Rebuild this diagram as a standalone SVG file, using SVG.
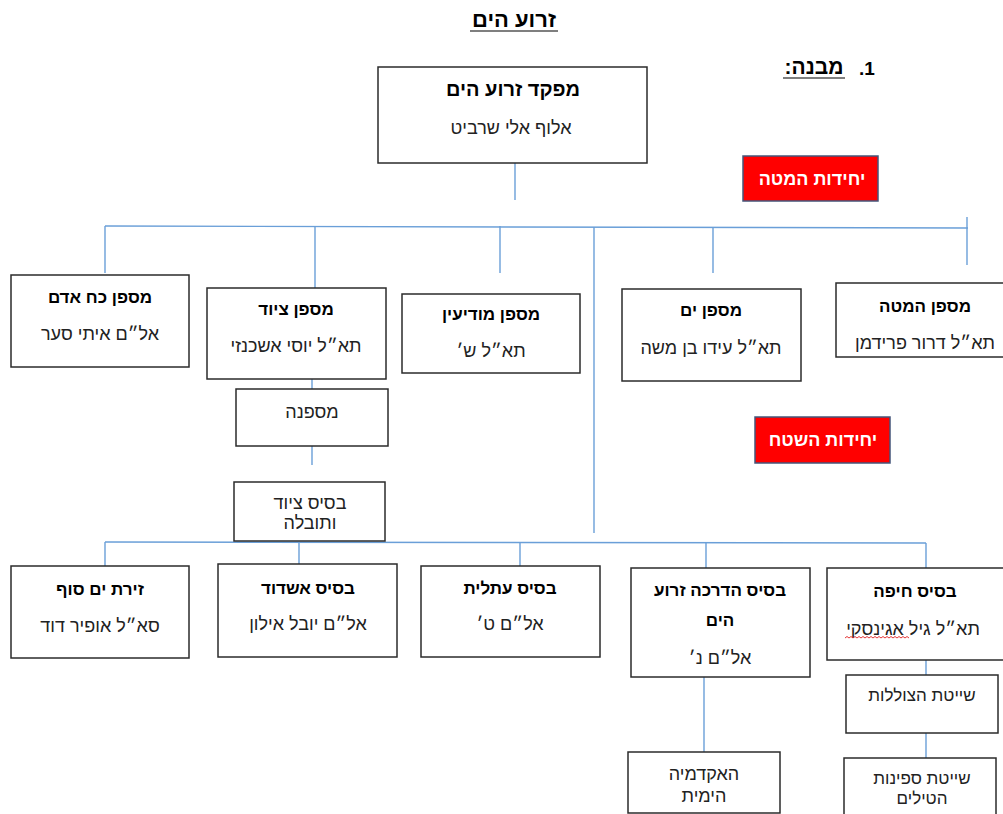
<svg xmlns="http://www.w3.org/2000/svg" width="1003" height="814" viewBox="0 0 1003 814">
<style>
.box{fill:#fff;stroke:#2b2b2b;stroke-width:1.5}
.red{fill:#ff0000;stroke:#44557a;stroke-width:1.5}
.h{font-family:"Liberation Sans","DejaVu Sans",sans-serif;font-weight:bold;font-size:17px;fill:#000;text-anchor:middle}
.n{font-family:"Liberation Sans","DejaVu Sans",sans-serif;font-size:18px;fill:#222;text-anchor:middle}
.s{font-family:"Liberation Sans","DejaVu Sans",sans-serif;font-size:17px;fill:#222;text-anchor:middle}
.w{font-family:"Liberation Sans","DejaVu Sans",sans-serif;font-weight:bold;font-size:18px;fill:#fff;text-anchor:middle}
.c line{stroke:#6a9fd8;stroke-width:1.4}
</style>
<rect width="1003" height="814" fill="#fff"/>
<g id="title">
<text x="514" y="27" class="h" style="font-size:22px" direction="rtl">זרוע הים</text>
<line x1="470" y1="31" x2="558" y2="31" stroke="#000" stroke-width="1.2"/>
</g>
<g id="heading">
<text x="867" y="75" class="h" style="font-size:19px" direction="rtl">1.</text>
<text x="814" y="74" class="h" style="font-size:21px" direction="rtl">מבנה:</text>
<line x1="783" y1="78" x2="845" y2="78" stroke="#000" stroke-width="1.2"/>
</g>
<g class="c" id="connectors">
<line x1="515" y1="163" x2="515" y2="200"/>
<line x1="105" y1="226" x2="968" y2="228"/>
<line x1="105" y1="226" x2="105" y2="273"/>
<line x1="315" y1="226" x2="315" y2="288"/>
<line x1="500" y1="226" x2="500" y2="273"/>
<line x1="594" y1="227" x2="594" y2="533"/>
<line x1="713" y1="227" x2="713" y2="273"/>
<line x1="967" y1="217" x2="967" y2="265"/>
<line x1="312" y1="379" x2="312" y2="389"/>
<line x1="312" y1="446" x2="312" y2="465"/>
<line x1="105" y1="542" x2="926" y2="543"/>
<line x1="105" y1="542" x2="105" y2="566"/>
<line x1="299" y1="542" x2="299" y2="580"/>
<line x1="520" y1="542" x2="520" y2="566"/>
<line x1="706" y1="542" x2="706" y2="568"/>
<line x1="926" y1="543" x2="926" y2="568"/>
<line x1="926" y1="660" x2="926" y2="675"/>
<line x1="926" y1="733" x2="926" y2="758"/>
<line x1="704" y1="677" x2="704" y2="752"/>
</g>
<g id="commander">
<rect class="box" x="378" y="67" width="269" height="96"/>
<text class="h" x="513" y="96" style="font-size:20px" direction="rtl">מפקד זרוע הים</text>
<text class="n" x="511" y="134" direction="rtl">אלוף אלי שרביט</text>
</g>
<g id="hq-units">
<rect class="red" x="743" y="156" width="135" height="45"/>
<text class="w" x="812" y="185" direction="rtl">יחידות המטה</text>
</g>
<g id="field-units">
<rect class="red" x="755" y="417" width="135" height="46"/>
<text class="w" x="823" y="446" direction="rtl">יחידות השטח</text>
</g>
<g id="manpower">
<rect class="box" x="11" y="275" width="178" height="92"/>
<text class="h" x="100" y="303" direction="rtl">מספן כח אדם</text>
<text class="n" x="100" y="340" direction="rtl">אל״ם איתי סער</text>
</g>
<g id="equipment">
<rect class="box" x="207" y="288" width="179" height="91"/>
<text class="h" x="296" y="315" direction="rtl">מספן ציוד</text>
<text class="n" x="296" y="352" direction="rtl">תא״ל יוסי אשכנזי</text>
</g>
<g id="intel">
<rect class="box" x="402" y="294" width="178" height="79"/>
<text class="h" x="491" y="320" direction="rtl">מספן מודיעין</text>
<text class="n" x="491" y="357" direction="rtl">תא״ל ש׳</text>
</g>
<g id="sea">
<rect class="box" x="622" y="289" width="179" height="92"/>
<text class="h" x="711" y="316" direction="rtl">מספן ים</text>
<text class="n" x="711" y="354" direction="rtl">תא״ל עידו בן משה</text>
</g>
<g id="staff">
<rect class="box" x="836" y="283" width="172" height="74"/>
<text class="h" x="925" y="312" direction="rtl">מספן המטה</text>
<text class="n" x="925" y="349" direction="rtl">תא״ל דרור פרידמן</text>
</g>
<g id="shipyard">
<rect class="box" x="236" y="389" width="152" height="57"/>
<text class="n" x="312" y="418" direction="rtl">מספנה</text>
</g>
<g id="logistics-base">
<rect class="box" x="234" y="482" width="151" height="59"/>
<text class="n" x="310" y="509" direction="rtl">בסיס ציוד</text>
<text class="n" x="310" y="529" direction="rtl">ותובלה</text>
</g>
<g id="red-sea">
<rect class="box" x="11" y="566" width="178" height="92"/>
<text class="h" x="100" y="595" direction="rtl">זירת ים סוף</text>
<text class="n" x="100" y="632" direction="rtl">סא״ל אופיר דוד</text>
</g>
<g id="ashdod">
<rect class="box" x="218" y="564" width="179" height="93"/>
<text class="h" x="308" y="594" direction="rtl">בסיס אשדוד</text>
<text class="n" x="308" y="630" direction="rtl">אל״ם יובל אילון</text>
</g>
<g id="atlit">
<rect class="box" x="421" y="566" width="179" height="91"/>
<text class="h" x="510" y="594" direction="rtl">בסיס עתלית</text>
<text class="n" x="510" y="630" direction="rtl">אל״ם ט׳</text>
</g>
<g id="training">
<rect class="box" x="631" y="568" width="179" height="109"/>
<text class="h" x="720" y="596" direction="rtl">בסיס הדרכה זרוע</text>
<text class="h" x="720" y="626" direction="rtl">הים</text>
<text class="n" x="720" y="664" direction="rtl">אל״ם נ׳</text>
</g>
<g id="haifa">
<rect class="box" x="827" y="568" width="180" height="92"/>
<text class="h" x="915" y="597" direction="rtl">בסיס חיפה</text>
<text class="n" x="913" y="635" direction="rtl">תא״ל גיל אגינסקי</text>
<path d="M845 638 l2 -1.5 l2 1.5 l2 -1.5 l2 1.5 l2 -1.5 l2 1.5 l2 -1.5 l2 1.5 l2 -1.5 l2 1.5 l2 -1.5 l2 1.5 l2 -1.5 l2 1.5 l2 -1.5 l2 1.5 l2 -1.5 l2 1.5 l2 -1.5 l2 1.5 l2 -1.5 l2 1.5 l2 -1.5 l2 1.5 l2 -1.5 l2 1.5 l2 -1.5 l2 1.5 l2 -1.5 l2 1.5 l2 -1.5 l2 1.5" fill="none" stroke="#e02020" stroke-width="0.9"/>
</g>
<g id="submarines">
<rect class="box" x="846" y="675" width="152" height="58"/>
<text class="s" x="922" y="701" direction="rtl">שייטת הצוללות</text>
</g>
<g id="missile-boats">
<rect class="box" x="844" y="758" width="152" height="62"/>
<text class="s" x="922" y="784" direction="rtl">שייטת ספינות</text>
<text class="s" x="922" y="804" direction="rtl">הטילים</text>
</g>
<g id="academy">
<rect class="box" x="628" y="752" width="152" height="61"/>
<text class="n" x="704" y="780" direction="rtl">האקדמיה</text>
<text class="n" x="704" y="802" direction="rtl">הימית</text>
</g>
</svg>
